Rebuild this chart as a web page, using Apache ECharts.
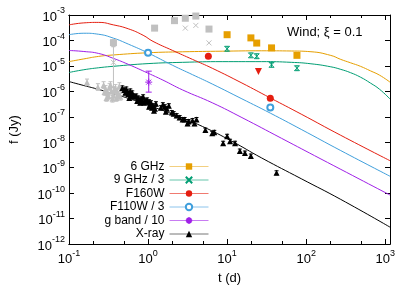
<!DOCTYPE html>
<html><head><meta charset="utf-8">
<script src="https://cdn.jsdelivr.net/npm/echarts@6/dist/echarts.min.js"></script>
<style>html,body{margin:0;padding:0;background:#fff}#c{width:415px;height:290px}</style>
</head><body><div id="c"></div>
<script>
// ---- axis ticks ----
const xTicks = [0.1, 1, 10, 100, 1000];
const xMinorTicks = [0.2, 0.5, 2, 5, 20, 50, 200, 500];
const yTicks = [1e-12, 1e-11, 1e-10, 1e-9, 1e-8, 1e-7, 1e-6, 1e-5, 1e-4, 1e-3];
const xMin = 0.1, xMax = 1150, yMin = 1e-12, yMax = 1e-3;

// ---- legend names ----
const names = ['6 GHz', '9 GHz / 3', 'F160W', 'F110W / 3', 'g band / 10', 'X-ray'];

// ---- measured data [t (d), f (Jy)] ----
const radio6 = [[10, 1.68e-4], [20, 1.26e-4], [23.7, 7.9e-5], [36.5, 5.1e-5], [76.5, 2.6e-5]];
const radio9 = [[10, 4.7e-5], [20, 2.6e-5], [23.7, 2.4e-5], [36.5, 1.1e-5], [76.5, 8.1e-6]];
const radio9Err = 1.25;
const f160w = [[5.79, 2.4e-5], [35.2, 5.4e-7]];
const f160wLimit = [[24.9, 6.0e-6]];
const f110w = [[1.0, 3.3e-5], [35.2, 2.3e-7]];
const gband = [[1.02, 2.3e-6]];
const gbandErr = [[1.02, 9.3e-7, 6.2e-6]];
const xray = [
  [0.473, 1.36e-6], [0.501, 1.13e-6], [0.531, 1.24e-6], [0.546, 9.5e-7], [0.562, 7.9e-7], [0.596, 1.04e-6],
  [0.613, 7.2e-7], [0.631, 8.7e-7], [0.649, 6.6e-7], [0.688, 6.1e-7], [0.516, 8.7e-7], [0.579, 5.5e-7],
  [0.708, 6.6e-7], [0.750, 5.5e-7], [0.772, 4.6e-7], [0.818, 5.1e-7], [0.841, 3.9e-7], [0.866, 6.1e-7],
  [0.891, 3.55e-7], [0.917, 4.2e-7], [0.794, 3.55e-7], [0.729, 4.2e-7],
  [0.972, 4.6e-7], [1.029, 3.9e-7], [1.059, 2.97e-7], [1.09, 3.55e-7], [1.122, 2.27e-7], [1.155, 2.72e-7],
  [1.189, 1.74e-7], [1.223, 2.08e-7], [1.259, 3.25e-7], [1.029, 2.48e-7],
  [1.453, 2.27e-7], [1.54, 2.97e-7], [1.63, 2.48e-7], [1.73, 2.08e-7], [1.83, 2.72e-7], [1.68, 1.59e-7],
  [2.0, 1.46e-7], [2.11, 1.33e-7], [2.30, 1.11e-7], [2.51, 9.3e-8], [2.74, 7.8e-8],
  [2.90, 7.8e-8], [3.25, 6.5e-8], [3.65, 7.1e-8], [4.10, 7.8e-8], [3.87, 5.4e-8], [3.16, 5.4e-8],
  [5.31, 3.0e-8], [6.49, 2.23e-8], [6.88, 2.44e-8], [10, 1.71e-8], [8.91, 9.1e-9], [10.9, 1.09e-8],
  [12.6, 9.1e-9], [14.5, 4.5e-9], [16.8, 3.75e-9], [20.0, 2.86e-9], [42.2, 6.3e-10]
];
const xrayErr = 1.2;
// excluded (grey) data
const greySquares = [[1.21, 3.05e-4], [2.16, 6.0e-4], [2.96, 7.45e-4], [4.02, 9.1e-4], [5.9, 2.8e-4], [0.365, 8.2e-5]];
const greySquaresErr = [[0.365, 5.7e-5, 1.07e-4]];
const greyCrosses = [[2.96, 3.05e-4], [4.02, 3.9e-4], [5.9, 8.0e-5], [0.365, 1.38e-5]];
const greyCrossesErr = [[0.365, 1.04e-6, 5.7e-5]];
const greyXray = [
  [0.169, 2.25e-6], [0.232, 1.48e-6], [0.274, 1.77e-6], [0.282, 9.5e-7], [0.290, 1.24e-6], [0.298, 5.5e-7],
  [0.307, 8.7e-7], [0.316, 6.6e-7], [0.326, 1.48e-6], [0.335, 1.77e-6], [0.345, 1.04e-6], [0.355, 5.1e-7],
  [0.365, 7.2e-7], [0.376, 1.13e-6], [0.387, 1.36e-6], [0.398, 5.5e-7], [0.410, 9.5e-7], [0.422, 7.2e-7],
  [0.434, 1.62e-6], [0.447, 6.1e-7], [0.46, 1.24e-6]
];
const greyXrayErr = 1.35;

// ---- model curves [t, f] ----
const model6 = [[0.1, 1.47e-5], [0.154, 1.88e-5], [0.237, 2.36e-5], [0.365, 2.69e-5], [1, 3.28e-5], [2.74, 3.58e-5],
  [8.66, 3.78e-5], [27.4, 3.92e-5], [64.9, 3.85e-5], [115, 3.6e-5], [205, 2.58e-5], [274, 1.8e-5], [365, 1.32e-5],
  [487, 9.6e-6], [649, 6.4e-6], [850, 4.3e-6], [1150, 2.3e-6]];
const model9 = [[0.1, 5.5e-6], [0.154, 7.06e-6], [0.237, 8.44e-6], [0.365, 9.64e-6], [1, 1.23e-5], [2.74, 1.38e-5],
  [8.66, 1.47e-5], [27.4, 1.47e-5], [64.9, 1.38e-5], [115, 1.21e-5], [205, 9.2e-6], [274, 7.3e-6], [365, 5.4e-6],
  [487, 3.6e-6], [649, 2.12e-6], [850, 1.2e-6], [1150, 5.0e-7]];
const modelF160 = [[0.1, 4.09e-4], [0.154, 4.9e-4], [0.237, 5.12e-4], [0.365, 4.09e-4], [0.562, 2.87e-4], [0.866, 1.6e-4],
  [1.155, 9.2e-5], [2.05, 4.03e-5], [3.65, 1.8e-5], [6.49, 8.07e-6], [15.4, 2.12e-6], [35.2, 5.5e-7], [86.6, 1.27e-7], [274, 1.87e-8], [1150, 1.88e-9]];
const modelF110 = [[0.1, 1.68e-4], [0.154, 1.92e-4], [0.237, 1.75e-4], [0.365, 1.23e-4], [0.562, 7.19e-5], [1, 3.22e-5],
  [2.05, 1.05e-5], [3.65, 4.52e-6], [6.49, 1.94e-6], [15.4, 5.07e-7], [35.2, 1.39e-7], [86.6, 3.19e-8], [274, 4.69e-9], [1150, 4.6e-10]];
const modelG = [[0.1, 4.03e-5], [0.154, 3.68e-5], [0.237, 3.08e-5], [0.365, 1.97e-5], [0.562, 1.15e-5], [1, 5.16e-6],
  [1.54, 2.77e-6], [2.74, 1.13e-6], [6.49, 3.55e-7], [15.4, 9.3e-8], [48.7, 1.43e-8], [154, 2.19e-9], [1150, 8.4e-11]];
const modelX = [[0.1, 2.42e-6], [0.154, 1.69e-6], [0.237, 1.19e-6], [0.365, 7.93e-7], [0.562, 5.31e-7], [1, 2.84e-7],
  [2.05, 1.27e-7], [4.87, 4.17e-8], [11.5, 1.09e-8], [27.4, 2.4e-9], [86.6, 3.68e-10], [274, 5.65e-11], [1150, 4.6e-12]];

// ---- styling ----
const FONT = '"Liberation Sans", Arial, Helvetica, sans-serif';
const C = { orange: '#e69f00', teal: '#009e73', red: '#e51e10', blue: '#3f9fdc', purple: '#a020e8', black: '#000000', grey: '#c0c0c0' };
const CL = { orange: '#f2cf80', teal: '#66c5ab', red: '#f07a70', blue: '#8cc4ec', purple: '#c87cf2', black: '#777777' };
const CROSS = 'path://M0,0L10,10M10,0L0,10';
const STAR = 'path://M0,5L10,5M5,0L5,10M1.5,1.5L8.5,8.5M8.5,1.5L1.5,8.5';

const sup = v => '{b|10}{s|' + Math.round(Math.log10(v)) + '}';
const rich = {
  b: { fontSize: 13, fontFamily: FONT, color: '#000', lineHeight: 17, verticalAlign: 'bottom' },
  s: { fontSize: 9, fontFamily: FONT, color: '#000', verticalAlign: 'top' }
};

function xAx(pos, ticks, len, labels) {
  return {
    type: 'log', logBase: 10, min: xMin, max: xMax, position: pos,
    splitLine: { show: false },
    axisLine: { show: true, onZero: false, lineStyle: { color: '#000', width: 1 } },
    axisTick: { show: true, inside: true, length: len, customValues: ticks, lineStyle: { color: '#000', width: 1 } },
    axisLabel: labels ? { customValues: xTicks, formatter: sup, rich: rich, margin: 5 } : { show: false }
  };
}
function yAx(pos, labels) {
  return {
    type: 'log', logBase: 10, min: yMin, max: yMax, position: pos,
    splitLine: { show: false },
    axisLine: { show: true, onZero: false, lineStyle: { color: '#000', width: 1 } },
    axisTick: { show: true, inside: true, length: 5, customValues: yTicks, lineStyle: { color: '#000', width: 1 } },
    axisLabel: labels ? { customValues: yTicks, formatter: sup, rich: rich, margin: 4 } : { show: false }
  };
}

function model(data, color) {
  return { type: 'line', data: data, smooth: 0.5, showSymbol: false, symbol: 'none', silent: true, z: 2,
    lineStyle: { color: color, width: 1 }, animation: false };
}
function pts(name, data, symbol, size, itemStyle, lineColor, extra) {
  return Object.assign({ name: name, type: 'line', data: data, symbol: symbol, symbolSize: size, showSymbol: true,
    itemStyle: itemStyle, lineStyle: { color: lineColor, opacity: 0, width: 1 }, silent: true, z: 5, animation: false }, extra || {});
}
function errs(data, color, cap) {
  return { type: 'custom', data: data, silent: true, z: 4, animation: false, encode: { x: 0, y: [1, 2] },
    renderItem: function (p, api) {
      const t = api.value(0);
      const a = api.coord([t, api.value(1)]), b = api.coord([t, api.value(2)]);
      const st = { stroke: color, lineWidth: 1, fill: null };
      return { type: 'group', children: [
        { type: 'line', shape: { x1: a[0], y1: a[1], x2: b[0], y2: b[1] }, style: st },
        { type: 'line', shape: { x1: a[0] - cap, y1: a[1], x2: a[0] + cap, y2: a[1] }, style: st },
        { type: 'line', shape: { x1: b[0] - cap, y1: b[1], x2: b[0] + cap, y2: b[1] }, style: st }
      ] };
    } };
}
const rel = (arr, k) => arr.map(d => [d[0], d[1] / k, d[1] * k]);

const chart = echarts.init(document.getElementById('c'), null, { renderer: 'canvas' });
chart.setOption({
  animation: false,
  backgroundColor: '#fff',
  grid: { left: 65, right: 25, top: 15, bottom: 43, containLabel: false },
  title: { text: 'Wind; \u03be = 0.1', left: 287, top: 26, padding: 0,
    textStyle: { fontSize: 13, fontWeight: 'normal', fontFamily: FONT, color: '#000' } },
  legend: {
    data: names, orient: 'vertical', right: 206, top: 160, align: 'right', padding: 0,
    itemWidth: 39, itemHeight: 8, itemGap: 0.5, selectedMode: false,
    textStyle: { fontSize: 12, fontFamily: FONT, color: '#000', lineHeight: 13 },
    lineStyle: { opacity: 1, width: 1 }
  },
  xAxis: [
    Object.assign(xAx('bottom', xTicks, 5, true), { name: 't (d)', nameLocation: 'middle', nameGap: 28,
      nameTextStyle: { fontSize: 13, fontFamily: FONT, color: '#000' } }),
    xAx('bottom', xMinorTicks, 3, false),
    xAx('top', xTicks, 5, false),
    xAx('top', xMinorTicks, 3, false)
  ],
  yAxis: [
    Object.assign(yAx('left', true), { name: 'f (Jy)', nameLocation: 'middle', nameGap: 48,
      nameTextStyle: { fontSize: 13, fontFamily: FONT, color: '#000' } }),
    yAx('right', false)
  ],
  series: [
    model(model6, C.orange), model(model9, C.teal), model(modelF160, C.red),
    model(modelF110, C.blue), model(modelG, C.purple), model(modelX, C.black),
    errs(greySquaresErr, C.grey, 2), errs(greyCrossesErr, C.grey, 2), errs(rel(greyXray, greyXrayErr), C.grey, 2),
    pts('greySq', greySquares, 'rect', 7, { color: C.grey }, C.grey),
    pts('greyX', greyCrosses, CROSS, 5, { color: 'transparent', borderColor: C.grey, borderWidth: 1 }, C.grey),
    pts('greyTri', greyXray, 'triangle', 6, { color: C.grey }, C.grey),
    errs(rel(xray, xrayErr), C.black, 2),
    errs(rel(radio9, radio9Err), C.teal, 2.5),
    errs(gbandErr, C.purple, 3),
    pts(names[0], radio6, 'rect', 7, { color: C.orange }, CL.orange),
    pts(names[1], radio9, CROSS, 5, { color: 'transparent', borderColor: C.teal, borderWidth: 1 }, CL.teal),
    pts(names[2], f160w, 'circle', 7, { color: C.red }, CL.red),
    pts('F160W limit', f160wLimit, 'triangle', 7, { color: C.red }, CL.red, { symbolRotate: 180 }),
    pts(names[3], f110w, 'emptyCircle', 6, { color: C.blue, borderColor: C.blue, borderWidth: 1 }, CL.blue),
    pts(names[4], gband, STAR, 7, { color: 'transparent', borderColor: C.purple, borderWidth: 1 }, CL.purple),
    pts(names[5], xray, 'triangle', 6, { color: C.black }, CL.black)
  ]
});
</script></body></html>
